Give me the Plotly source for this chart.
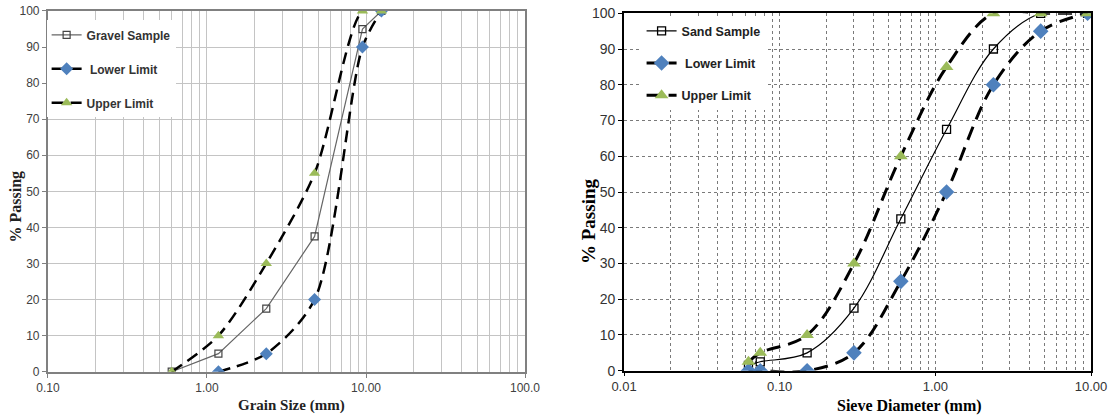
import plotly.graph_objects as go

# ---------------- data ----------------
gravel_sizes = [0.6, 1.18, 2.36, 4.75, 9.5, 12.5]
gravel_sample = [0, 5, 17.5, 37.5, 95, 100]
gravel_lower_sizes = [1.18, 2.36, 4.75, 9.5, 12.5]
gravel_lower = [0, 5, 20, 90, 100]
gravel_upper = [0, 10, 30, 55, 100, 100]

sand_sizes = [0.063, 0.075, 0.15, 0.3, 0.6, 1.18, 2.36, 4.75, 9.5]
sand_sample = [1.5, 2.5, 5, 17.5, 42.5, 67.5, 90, 100, 100]
sand_lower = [0, 0, 0, 5, 25, 50, 80, 95, 100]
sand_upper = [2.5, 5, 10, 30, 60, 85, 100, 100, 100]

left_xticks = [0.1, 1, 10, 100]
left_xticktext = ["0.10", "1.00", "10.00", "100.0"]
right_xticks = [0.01, 0.1, 1, 10]
right_xticktext = ["0.01", "0.10", "1.00", "10.00"]
y_ticks = [0, 10, 20, 30, 40, 50, 60, 70, 80, 90, 100]

BLUE = "#4F81BD"
GREEN = "#9BBB59"
SANS = "Liberation Sans, Arial, sans-serif"
SERIF = "Liberation Serif, Times New Roman, serif"

fig = go.Figure()

# ---------------- left chart (gravel) ----------------
fig.add_trace(go.Scatter(
    x=gravel_sizes, y=gravel_sample, name="Gravel Sample", mode="lines+markers",
    line=dict(color="#666666", width=1.2),
    marker=dict(symbol="square-open", size=7, color="#444444", line=dict(width=1.2)),
    xaxis="x", yaxis="y", legend="legend", legendgroup="g1"))
fig.add_trace(go.Scatter(
    x=gravel_lower_sizes, y=gravel_lower, name=" Lower Limit", mode="lines+markers",
    line=dict(color="black", width=2.5, dash="12px,7px", shape="spline", smoothing=0.8),
    marker=dict(symbol="diamond", size=10, color=BLUE),
    xaxis="x", yaxis="y", legend="legend", legendgroup="g2"))
fig.add_trace(go.Scatter(
    x=gravel_sizes, y=gravel_upper, name="Upper Limit", mode="lines+markers",
    line=dict(color="black", width=2.5, dash="12px,7px", shape="spline", smoothing=0.8),
    marker=dict(symbol="triangle-up", size=10, color=GREEN),
    xaxis="x", yaxis="y", legend="legend", legendgroup="g3"))

# ---------------- right chart (sand) ----------------
fig.add_trace(go.Scatter(
    x=sand_sizes, y=sand_sample, name="Sand Sample", mode="lines+markers",
    line=dict(color="black", width=1.2, shape="spline", smoothing=1.0),
    marker=dict(symbol="square-open", size=8, color="black", line=dict(width=1.3)),
    xaxis="x2", yaxis="y2", legend="legend2", legendgroup="s1"))
fig.add_trace(go.Scatter(
    x=sand_sizes, y=sand_lower, name=" Lower Limit", mode="lines+markers",
    line=dict(color="black", width=3, dash="14px,8px", shape="spline", smoothing=1.0),
    marker=dict(symbol="diamond", size=12, color=BLUE),
    xaxis="x2", yaxis="y2", legend="legend2", legendgroup="s2"))
fig.add_trace(go.Scatter(
    x=sand_sizes, y=sand_upper, name="Upper Limit", mode="lines+markers",
    line=dict(color="black", width=3, dash="14px,8px", shape="spline", smoothing=1.0),
    marker=dict(symbol="triangle-up", size=12, color=GREEN),
    xaxis="x2", yaxis="y2", legend="legend2", legendgroup="s3"))

left_grid = dict(showgrid=True, gridcolor="#c4c4c4", gridwidth=1)
right_grid = dict(showgrid=True, gridcolor="#7a7a7a", gridwidth=1, griddash="dot")

W, H = 1110, 415


def title_ann(text, px, py, size, color, angle=0):
    return dict(text="<b>" + text + "</b>", x=px / W, y=1 - py / H, xref="paper", yref="paper",
                xanchor="center", yanchor="middle", showarrow=False, textangle=angle,
                font=dict(family=SERIF, size=size, color=color))


fig.update_layout(
    width=W, height=H,
    margin=dict(l=0, r=0, t=0, b=0, autoexpand=False),
    paper_bgcolor="white", plot_bgcolor="white",
    showlegend=True,
    xaxis=dict(
        type="log", domain=[0.0432, 0.473], range=[-1, 2], automargin=False,
        tickvals=left_xticks, ticktext=left_xticktext,
        tickfont=dict(family=SANS, size=12, color="#404040"),
        ticks="outside", ticklen=4, tickcolor="#808080",
        showline=True, linecolor="#808080", linewidth=2, mirror=True,
        minor=dict(dtick="D1", showgrid=True, gridcolor="#c4c4c4", gridwidth=1),
        anchor="y", **left_grid),
    yaxis=dict(
        domain=[0.1043, 0.9735], range=[0, 100], tickvals=y_ticks, automargin=False,
        tickfont=dict(family=SANS, size=12, color="#404040"),
        ticks="outside", ticklen=4, tickcolor="#808080",
        showline=True, linecolor="#808080", linewidth=2, mirror=True,
        anchor="x", **left_grid),
    xaxis2=dict(
        type="log", domain=[0.5622, 0.9829], range=[-2, 1], automargin=False,
        tickvals=right_xticks, ticktext=right_xticktext,
        tickfont=dict(family=SANS, size=13, color="#333333"),
        ticks="outside", ticklen=3, tickcolor="black",
        showline=True, linecolor="black", linewidth=2, mirror=True,
        minor=dict(dtick="D1", showgrid=True, gridcolor="#7a7a7a", gridwidth=1, griddash="dot"),
        anchor="y2", **right_grid),
    yaxis2=dict(
        domain=[0.1067, 0.968], range=[0, 100], tickvals=y_ticks, automargin=False,
        tickfont=dict(family=SANS, size=14, color="#333333"),
        ticks="outside", ticklen=4, tickcolor="black",
        showline=True, linecolor="black", linewidth=2, mirror=True,
        anchor="x2", **right_grid),
    legend=dict(
        x=0.042, y=0.951, xanchor="left", yanchor="top",
        bgcolor="white", borderwidth=0, itemwidth=30, tracegroupgap=15,
        font=dict(family=SANS, size=12, color="#333333", weight="bold")),
    legend2=dict(
        x=0.578, y=0.961, xanchor="left", yanchor="top",
        bgcolor="white", borderwidth=0, itemwidth=30, tracegroupgap=13,
        font=dict(family=SANS, size=12.5, color="#222222", weight="bold")),
    annotations=[
        title_ann("% Passing", 15.5, 207, 16, "#222222", -90),
        title_ann("Grain Size (mm)", 291, 405, 15, "#222222"),
        title_ann("% Passing", 588, 222, 19, "black", -90),
        title_ann("Sieve Diameter (mm)", 909, 405.5, 16, "black"),
    ],
)

fig.write_html("out.html")
